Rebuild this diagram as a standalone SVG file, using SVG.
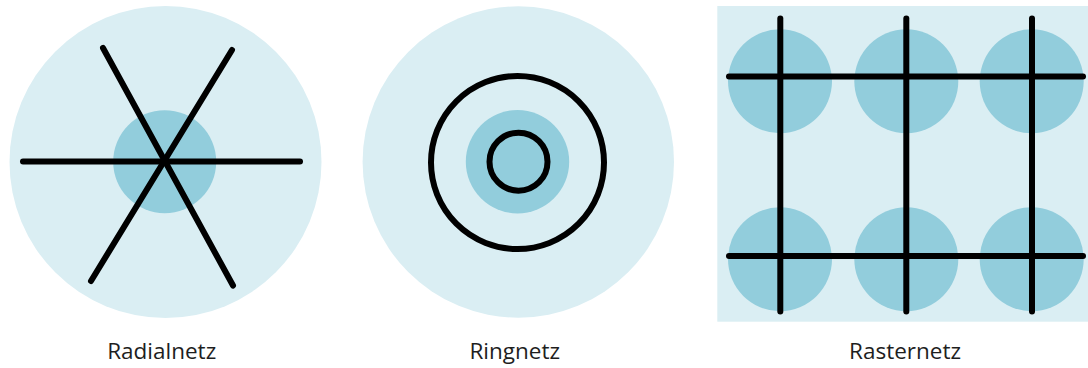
<svg xmlns="http://www.w3.org/2000/svg" width="1088" height="368" viewBox="0 0 1088 368">
<style>
.bg{fill:#DAEEF3}
.core{fill:#92CDDC}
.ln{stroke:#000;stroke-width:6;stroke-linecap:round;fill:none}
.lbl{font-family:"Open Sans","Noto Sans",sans-serif;font-size:22.5px;fill:#1e1e1e;text-anchor:middle}
</style>
<rect width="1088" height="368" fill="#fff"/>
<g id="radialnetz">
<circle class="bg" cx="165.5" cy="162" r="156"/>
<circle class="core" cx="164.7" cy="161.7" r="51.5"/>
<g class="ln">
<line x1="23" y1="161.5" x2="300" y2="161.5"/>
<line x1="103" y1="48" x2="233" y2="285.5"/>
<line x1="232" y1="50" x2="91" y2="281"/>
</g>
<text class="lbl" x="161.7" y="358.5">Radialnetz</text>
</g>
<g id="ringnetz">
<circle class="bg" cx="518.3" cy="162" r="155.7"/>
<circle class="core" cx="517.5" cy="161.7" r="51.7"/>
<g class="ln">
<circle cx="517.5" cy="162.5" r="86.5"/>
<circle cx="518.5" cy="161.7" r="29"/>
</g>
<text class="lbl" x="514.7" y="358.5">Ringnetz</text>
</g>
<g id="rasternetz">
<rect class="bg" x="717.3" y="6" width="370.7" height="315.7"/>
<g class="core">
<circle cx="780" cy="81.3" r="52"/>
<circle cx="906.3" cy="81.3" r="52"/>
<circle cx="1031.7" cy="81.3" r="52"/>
<circle cx="780" cy="259.2" r="52"/>
<circle cx="906.3" cy="259.2" r="52"/>
<circle cx="1031.7" cy="259.2" r="52"/>
</g>
<text class="lbl" x="905" y="358.5">Rasternetz</text>
</g>
<g id="connectors" class="ln">
<line x1="729" y1="76.5" x2="1083" y2="76.5"/>
<line x1="729" y1="256" x2="1083" y2="256"/>
<line x1="780.3" y1="18.5" x2="780.3" y2="311.5"/>
<line x1="906.3" y1="18.5" x2="906.3" y2="311.5"/>
<line x1="1032" y1="18.5" x2="1032" y2="311.5"/>
</g>
</svg>
